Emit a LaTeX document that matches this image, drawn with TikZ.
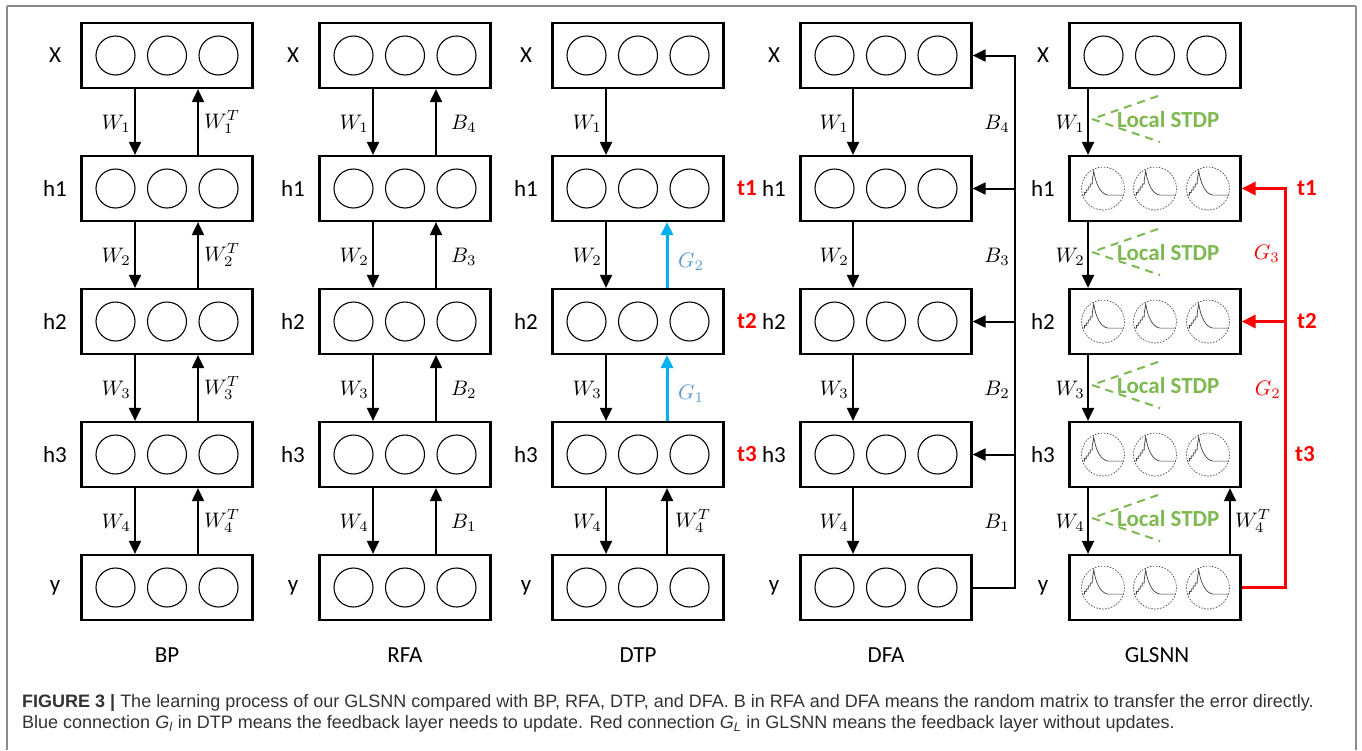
\documentclass[tikz,border=0pt]{standalone}
\usepackage[no-math]{fontspec}
\usepackage{graphicx}
\setmainfont{Carlito}
\newfontfamily\capfont{Liberation Sans}
\usetikzlibrary{arrows.meta}
\definecolor{stdpgreen}{RGB}{125,185,80}
\definecolor{gblue}{RGB}{0,176,240}
\definecolor{glabel}{RGB}{91,155,213}
\definecolor{tred}{RGB}{255,0,0}
\definecolor{capgray}{RGB}{51,51,51}
\definecolor{framegray}{RGB}{140,140,140}
\newcommand{\ml}[1]{\scalebox{2.1}{$#1$}}
\tikzset{
  spkcurve/.pic={
    \draw[sneu] (0,0) circle (21.5);
    \draw[line width=0.7pt, black!75] (-20.5,6.6) -- (-18.5,6.6) -- (-18.5,4) -- (-16.8,4) -- (-16.8,1.5) -- (-14.8,1.5) -- (-14.8,-1.5) -- (-12.8,-1.5) -- (-12.8,-4.5) -- (-10.8,-4.5) -- (-10.8,-8) -- (-9.3,-17.5) .. controls (-7,-3) and (-2,5.5) .. (5,6.6) -- (20.5,6.6);
  }
}
\begin{document}
\begin{tikzpicture}[x=1pt,y=-1pt,
  layerbox/.style={draw, line width=2.2pt, minimum width=171pt, minimum height=65pt, inner sep=0pt},
  neu/.style={draw, circle, line width=1.1pt, minimum size=39pt, inner sep=0pt},
  sneu/.style={draw=black!70, line width=0.7pt, dash pattern=on 1.6pt off 1.4pt},
  arr/.style={line width=2pt, -{Triangle[length=13pt,width=12pt]}},
  redarr/.style={tred, line width=3pt, -{Triangle[length=14pt,width=13pt]}},
  bluearr/.style={gblue, line width=3pt, -{Triangle[length=13pt,width=12pt]}},
  lname/.style={font=\fontsize{23}{27}\selectfont},
  wl/.style={inner sep=1pt},
  ttl/.style={font=\fontsize{23}{27}\selectfont},
  tlab/.style={font=\fontsize{23}{27}\selectfont\bfseries, text=tred},
  stdp/.style={stdpgreen, line width=2pt, dash pattern=on 8pt off 6pt},
  stdptext/.style={font=\fontsize{23}{27}\selectfont\bfseries, text=stdpgreen, anchor=west, inner sep=0pt},
  frm/.style={framegray, line width=1.2pt},
]
\useasboundingbox (0,0) rectangle (1362,750);
\coordinate (fTL) at (7,6);
\coordinate (fTR) at (1356,6);
\coordinate (fBL) at (7,750);
\coordinate (fBR) at (1356,750);
\draw[frm] (fTL) -- (fTR);
\draw[frm] (fTL) -- (fBL);
\draw[frm] (fTR) -- (fBR);

% ---------- plain columns ----------
\foreach \c/\cx in {bp/167,rfa/405,dtp/638,dfa/886}{
  \foreach \i/\nm in {0/X,1/h1,2/h2,3/h3,4/y}{
    \node[layerbox] (\c\i) at (\cx,55.5+133*\i) {};
    \node[lname] (\c\i lab) at (\cx-112,55.5+133*\i) {\nm};
    \foreach \k/\dx in {a/-51.5,b/0,c/51.5}{
      \node[neu] (\c\i\k) at (\cx+\dx,55.5+133*\i) {};
    }
  }
}
% GLSNN column
\foreach \i/\nm in {0/X,1/h1,2/h2,3/h3,4/y}{
  \node[layerbox] (gl\i) at (1155,55.5+133*\i) {};
  \node[lname] (gl\i lab) at (1043,55.5+133*\i) {\nm};
}
\foreach \k/\dx in {a/-51.5,b/0,c/51.5}{
  \node[neu] (gl0\k) at (1155+\dx,55.5) {};
}
\foreach \i in {1,2,3,4}{
  \foreach \k/\dx in {a/-52,b/0,c/53}{
    \pic (gl\i\k) at (1155+\dx,55.5+133*\i) {spkcurve};
  }
}

% ---------- BP ----------
\foreach \i in {1,2,3,4}{
  \pgfmathtruncatemacro{\j}{\i-1}
  \draw[arr] ([xshift=-32pt]bp\j.south) -- ([xshift=-32pt]bp\i.north);
  \draw[arr] ([xshift=31pt]bp\i.north) -- ([xshift=31pt]bp\j.south);
  \node[wl, anchor=east] (bpw\i) at (167-35,133*\i-9) {\ml{W_{\i}}};
  \node[wl, anchor=west] (bpwt\i) at (167+36,133*\i-11) {\ml{W_{\i}^{T}}};
}
% ---------- RFA ----------
\foreach \i in {1,2,3,4}{
  \pgfmathtruncatemacro{\j}{\i-1}
  \pgfmathtruncatemacro{\b}{5-\i}
  \draw[arr] ([xshift=-32pt]rfa\j.south) -- ([xshift=-32pt]rfa\i.north);
  \draw[arr] ([xshift=31pt]rfa\i.north) -- ([xshift=31pt]rfa\j.south);
  \node[wl, anchor=east] (rfaw\i) at (405-35,133*\i-9) {\ml{W_{\i}}};
  \node[wl, anchor=west] (rfab\i) at (405+45,133*\i-9) {\ml{B_{\b}}};
}
% ---------- DTP ----------
\foreach \i in {1,2,3,4}{
  \pgfmathtruncatemacro{\j}{\i-1}
  \draw[arr] ([xshift=-32pt]dtp\j.south) -- ([xshift=-32pt]dtp\i.north);
  \node[wl, anchor=east] (dtpw\i) at (638-35,133*\i-9) {\ml{W_{\i}}};
}
\draw[bluearr] ([xshift=29pt]dtp2.north) -- ([xshift=29pt]dtp1.south);
\draw[bluearr] ([xshift=29pt]dtp3.north) -- ([xshift=29pt]dtp2.south);
\draw[arr] ([xshift=29pt]dtp4.north) -- ([xshift=29pt]dtp3.south);
\node[wl, anchor=west, text=glabel] (dtpg2) at (638+39,262) {\ml{G_{2}}};
\node[wl, anchor=west, text=glabel] (dtpg1) at (638+39,394) {\ml{G_{1}}};
\node[wl, anchor=west] (dtpwt4) at (638+36,521) {\ml{W_{4}^{T}}};
\node[tlab] (dtpt1) at (747,188.5) {t1};
\node[tlab] (dtpt2) at (747,321.5) {t2};
\node[tlab] (dtpt3) at (747,454.5) {t3};

% ---------- DFA ----------
\foreach \i in {1,2,3,4}{
  \pgfmathtruncatemacro{\j}{\i-1}
  \pgfmathtruncatemacro{\b}{5-\i}
  \draw[arr] ([xshift=-33pt]dfa\j.south) -- ([xshift=-33pt]dfa\i.north);
  \node[wl, anchor=east] (dfaw\i) at (886-36,133*\i-9) {\ml{W_{\i}}};
  \node[wl, anchor=east] (dfab\i) at (1011,133*\i-9) {\ml{B_{\b}}};
}
\foreach \i in {0,1,2,3,4}{
  \coordinate (dfabus\i) at (1015,55.5+133*\i);
}
\draw[arr] (dfa4.east) -- (dfabus4) -- (dfabus0) -- (dfa0.east);
\foreach \i in {1,2,3}{
  \draw[arr] (dfabus\i) -- (dfa\i.east);
}

% ---------- GLSNN ----------
\foreach \i in {1,2,3,4}{
  \pgfmathtruncatemacro{\j}{\i-1}
  \draw[arr] ([xshift=-67pt]gl\j.south) -- ([xshift=-67pt]gl\i.north);
  \node[wl, anchor=east] (glw\i) at (1086,133*\i-9) {\ml{W_{\i}}};
  \coordinate (sv\i) at (1092,133*\i-14);
  \draw[stdp] (1158,133*\i-37) -- (sv\i) -- (1160,133*\i+9);
  \node[stdptext] (stdp\i) at (1117,133*\i-13) {Local STDP};
}
\draw[arr] ([xshift=75pt]gl4.north) -- ([xshift=75pt]gl3.south);
\node[wl, anchor=west] (glwt4) at (1234,521) {\ml{W_{4}^{T}}};
\foreach \i in {1,2,4}{
  \coordinate (rbus\i) at (1285,55.5+133*\i);
}
\draw[redarr] (gl4.east) -- (rbus4) -- (rbus1) -- (gl1.east);
\draw[redarr] (rbus2) -- (gl2.east);
\node[tlab] (glt1) at (1307,188.5) {t1};
\node[tlab] (glt2) at (1307,321.5) {t2};
\node[tlab] (glt3) at (1305,454.5) {t3};
\node[wl, anchor=east, text=tred] (glg3) at (1281,254) {\ml{G_{3}}};
\node[wl, anchor=east, text=tred] (glg2) at (1282,390) {\ml{G_{2}}};

% ---------- titles ----------
\node[ttl] (tbp) at (167,655) {BP};
\node[ttl] (trfa) at (405,655) {RFA};
\node[ttl] (tdtp) at (638,655) {DTP};
\node[ttl] (tdfa) at (886,655) {DFA};
\node[ttl] (tgl) at (1157,655) {GLSNN};

% ---------- caption ----------
\node[anchor=west, inner sep=0pt, text=capgray, font=\capfont\fontsize{18}{21}\selectfont] (cap1) at (22,703)
  {\textbf{FIGURE 3 |} The learning process of our GLSNN compared with BP, RFA, DTP, and DFA. B in RFA and DFA means the random matrix to transfer the error directly.};
\node[anchor=west, inner sep=0pt, text=capgray, font=\capfont\fontsize{18}{21}\selectfont] (cap2) at (22,724)
  {Blue connection \textit{G}\textsubscript{\textit{l}} in DTP means the feedback layer needs to update. Red connection \textit{G}\textsubscript{\textit{L}} in GLSNN means the feedback layer without updates.};
\end{tikzpicture}
\end{document}
